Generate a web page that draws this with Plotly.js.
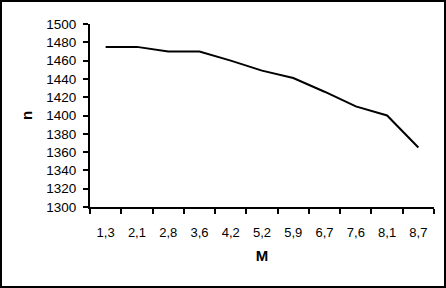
<!DOCTYPE html>
<html>
<head>
<meta charset="utf-8">
<script src="https://cdn.plot.ly/plotly-3.0.1.min.js"></script>
<style>html,body{margin:0;padding:0;background:#fff;}#chart{width:446px;height:288px;}</style>
</head>
<body>
<div id="chart"></div>
<script>
var categories = ["1,3","2,1","2,8","3,6","4,2","5,2","5,9","6,7","7,6","8,1","8,7"];
var nValues = [1475, 1475, 1470, 1470, 1460, 1449, 1441, 1426, 1410, 1400, 1365];
var yTickVals = [1300,1320,1340,1360,1380,1400,1420,1440,1460,1480,1500];

var L = 90, R = 12, T = 24, B = 81, W = 446, H = 288;
var pw = W - L - R, ph = H - T - B;
function px(x){return (x - L)/pw;}
function py(y){return (H - B - y)/ph;}

var trace = {
  x: categories,
  y: nValues,
  type: 'scatter',
  mode: 'lines',
  line: {color: '#000', width: 2},
  hoverinfo: 'skip'
};

var FONT = 'Liberation Sans, Arial, sans-serif';
var layout = {
  width: W, height: H,
  margin: {l: L, r: R, t: T, b: B, pad: 0},
  paper_bgcolor: '#fff', plot_bgcolor: '#fff',
  showlegend: false,
  font: {family: FONT, size: 13, color: '#000'},
  xaxis: {
    type: 'category',
    range: [-0.5, 10.5],
    tickson: 'boundaries',
    ticks: 'outside', ticklen: 5, tickwidth: 2, tickcolor: '#000',
    showline: true, linecolor: '#000', linewidth: 2,
    showgrid: false, zeroline: false,
    ticklabelstandoff: 12,
    tickfont: {size: 13, color: '#000'},
    title: {text: 'M', font: {size: 15, color: '#000', family: FONT, weight: 'bold'}, standoff: 12}
  },
  yaxis: {
    range: [1300, 1500],
    tickvals: yTickVals,
    ticks: 'outside', ticklen: 5, tickwidth: 2, tickcolor: '#000',
    showline: true, linecolor: '#000', linewidth: 2,
    showgrid: false, zeroline: false,
    ticklabelstandoff: 4,
    tickfont: {size: 13.5, color: '#000'},
    title: {text: 'n', font: {size: 15, color: '#000', family: FONT, weight: 'bold'}, standoff: 10}
  },
  shapes: [{
    type: 'rect', xref: 'paper', yref: 'paper',
    x0: px(1), x1: px(445), y0: py(287), y1: py(1),
    line: {color: '#000', width: 2}, fillcolor: 'rgba(0,0,0,0)', layer: 'above'
  }]
};

Plotly.newPlot('chart', [trace], layout, {displayModeBar: false, staticPlot: true});
</script>
</body>
</html>
